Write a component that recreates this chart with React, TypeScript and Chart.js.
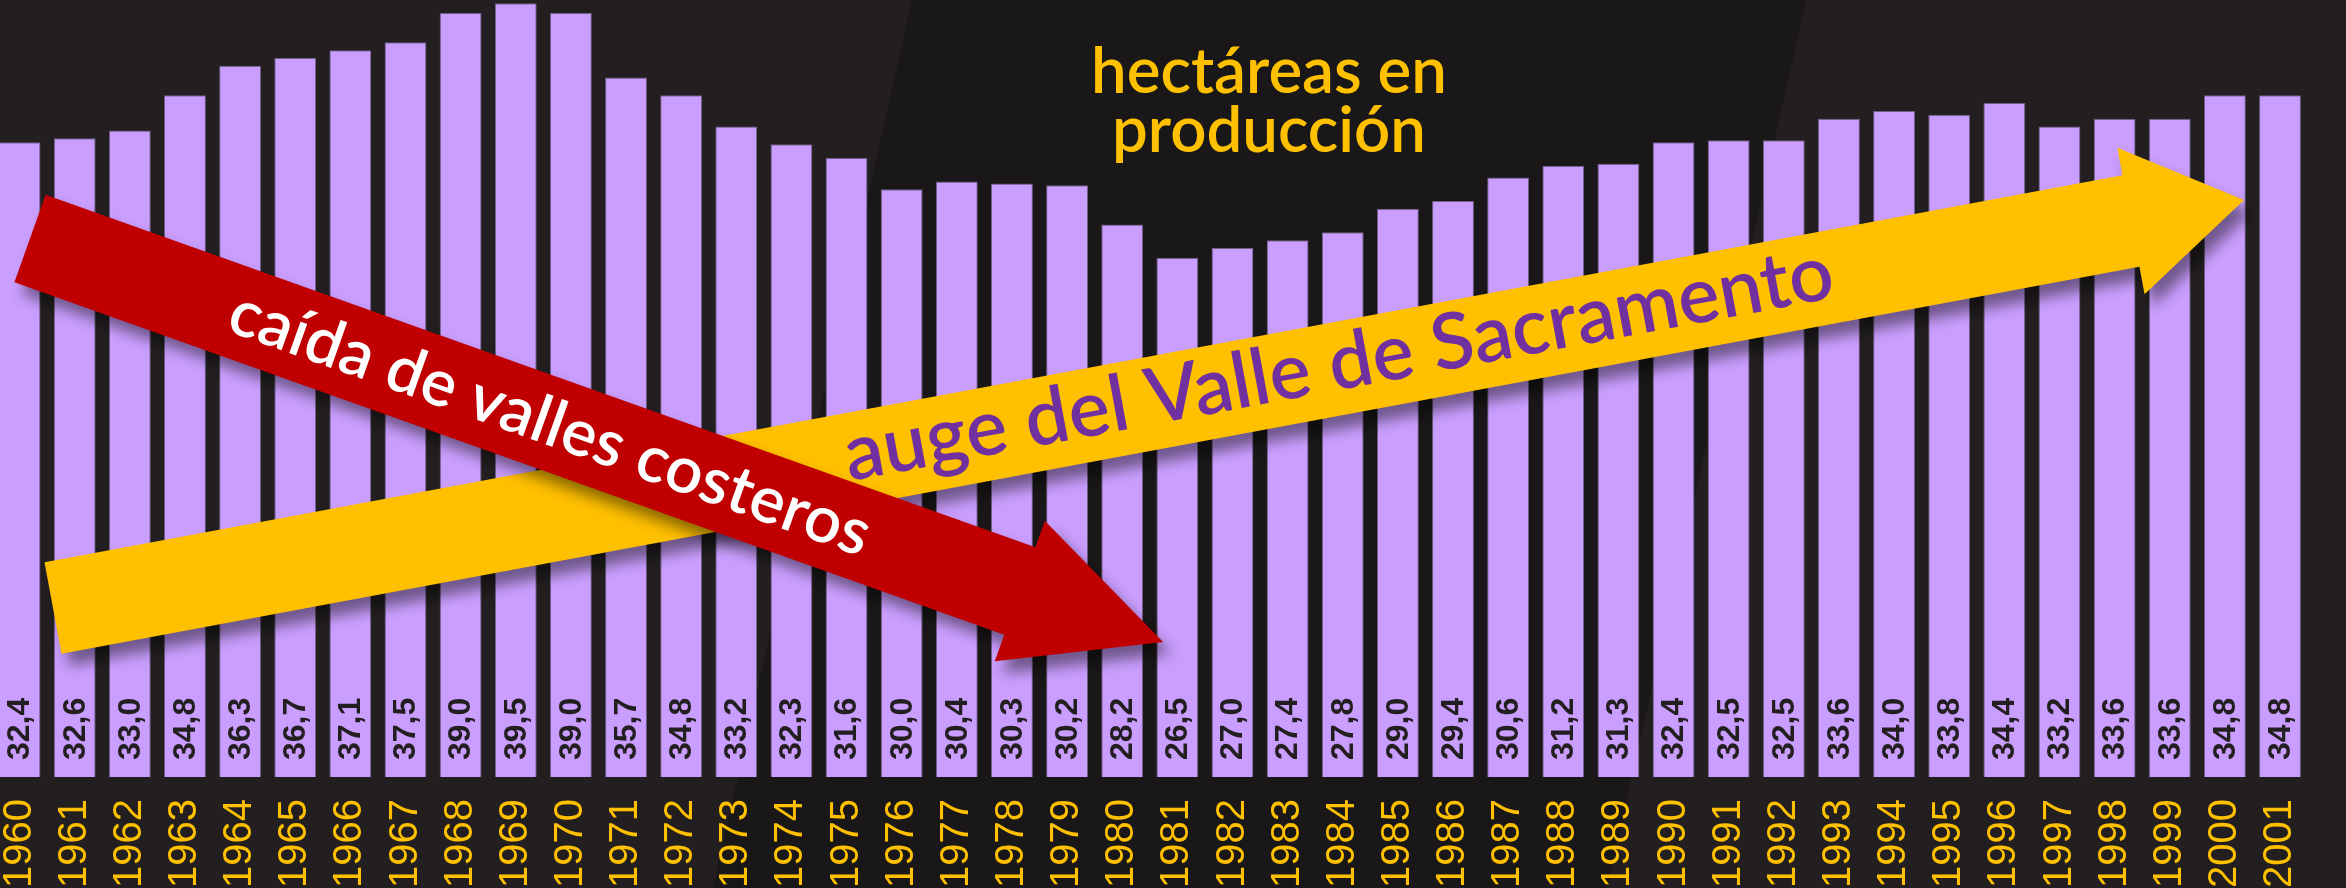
import React, { useEffect, useRef } from 'react';
import { Chart, registerables } from 'chart.js';

Chart.register(...registerables);

// ---- data ----
const years: string[] = [
  '1960', '1961', '1962', '1963', '1964', '1965', '1966', '1967', '1968', '1969',
  '1970', '1971', '1972', '1973', '1974', '1975', '1976', '1977', '1978', '1979',
  '1980', '1981', '1982', '1983', '1984', '1985', '1986', '1987', '1988', '1989',
  '1990', '1991', '1992', '1993', '1994', '1995', '1996', '1997', '1998', '1999',
  '2000', '2001',
];
const hectares: number[] = [
  32.4, 32.6, 33.0, 34.8, 36.3, 36.7, 37.1, 37.5, 39.0, 39.5,
  39.0, 35.7, 34.8, 33.2, 32.3, 31.6, 30.0, 30.4, 30.3, 30.2,
  28.2, 26.5, 27.0, 27.4, 27.8, 29.0, 29.4, 30.6, 31.2, 31.3,
  32.4, 32.5, 32.5, 33.6, 34.0, 33.8, 34.4, 33.2, 33.6, 33.6,
  34.8, 34.8,
];
const titleLines: string[] = ['hectáreas en', 'producción'];
const fallLabel = 'caída de valles costeros';
const riseLabel = 'auge del Valle de Sacramento';

// ---- styles ----
const BG = '#231F20';
const BG_DARK = '#1A1718';
const BAR = '#CA9EFE';
const BAR_EDGE = '#6F5E86';
const GOLD = '#FFC000';
const RED = '#C00000';
const PURPLE = '#7030A0';
const W = 2358;
const H = 888;
const SHIFT = 8; // canvas starts 8px left of the page edge
const TEXT_FONT = 'Lato';
const TEXT_WEIGHT = '600';

type Pt = { x: number; y: number };

function arrowPath(ctx: CanvasRenderingContext2D, tail: Pt, tip: Pt, sw: number, hw: number, hl: number) {
  const dx = tip.x - tail.x;
  const dy = tip.y - tail.y;
  const L = Math.hypot(dx, dy);
  const ux = dx / L, uy = dy / L;
  const px = -uy, py = ux;
  const bx = tip.x - ux * hl, by = tip.y - uy * hl;
  ctx.beginPath();
  ctx.moveTo(tail.x - px * sw / 2, tail.y - py * sw / 2);
  ctx.lineTo(bx - px * sw / 2, by - py * sw / 2);
  ctx.lineTo(bx - px * hw / 2, by - py * hw / 2);
  ctx.lineTo(tip.x, tip.y);
  ctx.lineTo(bx + px * hw / 2, by + py * hw / 2);
  ctx.lineTo(bx + px * sw / 2, by + py * sw / 2);
  ctx.lineTo(tail.x + px * sw / 2, tail.y + py * sw / 2);
  ctx.closePath();
}

function fitFont(ctx: CanvasRenderingContext2D, text: string, len: number) {
  ctx.font = `${TEXT_WEIGHT} 100px ${TEXT_FONT}`;
  const w100 = ctx.measureText(text).width;
  return (len / w100) * 100;
}

function arrowWithText(
  ctx: CanvasRenderingContext2D,
  a: { tail: Pt; tip: Pt; sw: number; hw: number; hl: number; color: string; text: string; textColor: string; start: number; len: number; off: number }
) {
  ctx.save();
  ctx.shadowColor = 'rgba(0,0,0,0.45)';
  ctx.shadowBlur = 14;
  ctx.shadowOffsetX = 8;
  ctx.shadowOffsetY = 12;
  ctx.fillStyle = a.color;
  arrowPath(ctx, a.tail, a.tip, a.sw, a.hw, a.hl);
  ctx.fill();
  ctx.restore();

  ctx.save();
  const ang = Math.atan2(a.tip.y - a.tail.y, a.tip.x - a.tail.x);
  ctx.translate(a.tail.x, a.tail.y);
  ctx.rotate(ang);
  const fs = fitFont(ctx, a.text, a.len);
  ctx.font = `${TEXT_WEIGHT} ${fs}px ${TEXT_FONT}`;
  ctx.fillStyle = a.textColor;
  ctx.textAlign = 'left';
  ctx.textBaseline = 'alphabetic';
  ctx.fillText(a.text, a.start, a.off * fs);
  ctx.restore();
}

const decor = {
  id: 'decor',
  beforeDraw(chart: any) {
    const ctx: CanvasRenderingContext2D = chart.ctx;
    ctx.save();
    ctx.fillStyle = BG;
    ctx.fillRect(0, 0, chart.width, chart.height);
    ctx.fillStyle = BG_DARK;
    ctx.beginPath();
    ctx.moveTo(912 + SHIFT, 0);
    ctx.lineTo(1806 + SHIFT, 0);
    ctx.lineTo(1607 + SHIFT, H);
    ctx.lineTo(713 + SHIFT, H);
    ctx.closePath();
    ctx.fill();
    ctx.restore();
  },
  afterDatasetsDraw(chart: any) {
    const ctx: CanvasRenderingContext2D = chart.ctx;
    const meta = chart.getDatasetMeta(0);
    ctx.save();
    ctx.fillStyle = '#231F20';
    ctx.font = 'bold 32px "Liberation Sans", Arial, sans-serif';
    ctx.textAlign = 'left';
    ctx.textBaseline = 'middle';
    meta.data.forEach((bar: any, i: number) => {
      const { x, base } = bar.getProps(['x', 'base'], true);
      ctx.save();
      ctx.translate(x, base - 17);
      ctx.rotate(-Math.PI / 2);
      ctx.fillText(hectares[i].toFixed(1).replace('.', ','), 0, 1);
      ctx.restore();
    });
    ctx.restore();
  },
  afterDraw(chart: any) {
    const ctx: CanvasRenderingContext2D = chart.ctx;
    // title
    ctx.save();
    const tfs = fitFont(ctx, titleLines[0], 356);
    ctx.fillStyle = GOLD;
    ctx.font = `${TEXT_WEIGHT} ${tfs}px ${TEXT_FONT}`;
    ctx.textAlign = 'center';
    ctx.textBaseline = 'alphabetic';
    ctx.fillText(titleLines[0], 1269 + SHIFT, 93);
    ctx.fillText(titleLines[1], 1269 + SHIFT, 152);
    ctx.restore();

    // rising arrow (below)
    arrowWithText(ctx, {
      tail: { x: 53 + SHIFT, y: 608 },
      tip: { x: 2244 + SHIFT, y: 200 },
      sw: 93, hw: 149, hl: 115,
      color: GOLD, text: riseLabel, textColor: PURPLE,
      start: 806, len: 1005, off: 0.27,
    });
    // falling arrow (on top)
    arrowWithText(ctx, {
      tail: { x: 30 + SHIFT, y: 238.5 },
      tip: { x: 1163 + SHIFT, y: 642 },
      sw: 93, hw: 149, hl: 152,
      color: RED, text: fallLabel, textColor: '#FFFFFF',
      start: 214, len: 676, off: 0.32,
    });
  },
};

export default function App() {
  const ref = useRef<HTMLCanvasElement>(null);
  useEffect(() => {
    document.body.style.margin = '0';
    document.body.style.background = BG;
    if (!ref.current) return;
    const chart = new Chart(ref.current, {
      type: 'bar',
      data: {
        labels: years,
        datasets: [
          {
            data: hectares,
            backgroundColor: BAR,
            borderColor: BAR_EDGE,
            borderWidth: { top: 1, left: 1, right: 1, bottom: 0 },
            borderSkipped: 'bottom',
            barPercentage: 0.76,
            categoryPercentage: 1,
          },
        ],
      },
      options: {
        animation: false,
        responsive: false,
        devicePixelRatio: 1,
        layout: { padding: 0, autoPadding: false },
        plugins: { legend: { display: false }, tooltip: { enabled: false }, title: { display: false } },
        scales: {
          x: {
            grid: { display: false, drawTicks: false },
            border: { display: false },
            ticks: {
              color: GOLD,
              font: { family: '"Liberation Sans Narrow", "Liberation Sans", sans-serif', size: 40 },
              minRotation: 90,
              maxRotation: 90,
              autoSkip: false,
              padding: 22,
            },
            afterFit: (scale: any) => {
              scale.height = 111;
            },
          },
          y: {
            display: false,
            min: 0,
            max: 39.66,
          },
        },
      },
      plugins: [decor],
    });
    let alive = true;
    if ((document as any).fonts) {
      Promise.all([
        document.fonts.load(`${TEXT_WEIGHT} 64px ${TEXT_FONT}`),
        document.fonts.load('bold 32px "Liberation Sans"'),
        document.fonts.load('40px "Liberation Sans Narrow"'),
      ])
        .then(() => {
          if (alive) chart.update();
        })
        .catch(() => {});
    }
    return () => {
      alive = false;
      chart.destroy();
    };
  }, []);
  return (
    <div style={{ width: 2346, height: 888, overflow: 'hidden', position: 'relative' }}>
      <canvas
        ref={ref}
        width={W}
        height={H}
        style={{ position: 'absolute', left: -SHIFT, top: 0, width: W, height: H }}
      />
    </div>
  );
}
